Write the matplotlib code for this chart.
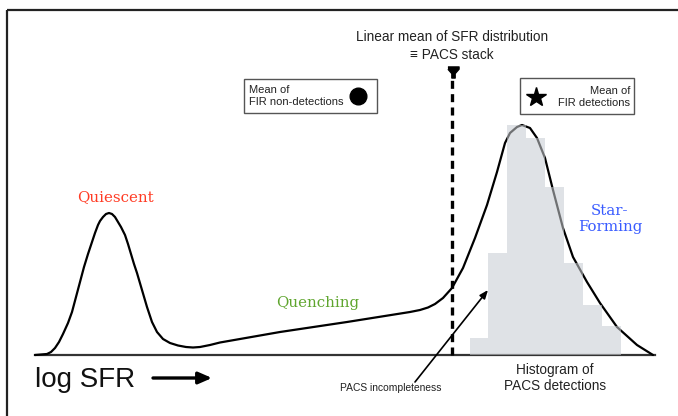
import matplotlib
matplotlib.use("Agg")
import matplotlib.pyplot as plt
from matplotlib.patches import Rectangle

# ---- data (schematic: x = log SFR position, y = relative number density) ----
curve_x = [35, 47, 51, 55, 59, 63, 68, 72, 76, 80, 84, 88, 92, 95, 98, 100, 103,
           106, 109, 112, 115, 118, 121, 125, 128, 131, 134, 137, 142, 147,
           152, 157, 163, 170, 178, 186, 193, 200, 210, 220, 280, 347, 410, 420,
           428, 435, 443, 452, 463, 475, 487, 497, 505, 510, 517, 522, 530, 537,
           545, 553, 563, 573, 587, 600, 617, 637, 653]
curve_y = [0, 1, 3, 7, 13, 21, 32, 43, 58, 73, 88, 101, 113, 122, 130, 134, 138,
           141, 142, 141, 138, 133, 128, 120, 111, 101, 91, 82, 65, 48,
           33, 23, 16, 12, 9.5, 8, 7.5, 8, 10, 12.5, 23, 33, 43, 45,
           47.5, 51, 57, 67, 87, 117, 150, 183, 212, 222, 228, 230, 227, 217,
           197, 165, 127, 98, 73, 52, 28, 10, 0]

hist_edges = [470, 488, 507, 526, 545, 564, 583, 602, 621]
hist_counts = [17, 102, 230, 217, 168, 92, 50, 29]

mean_all_x = 452          # linear mean of SFR distribution (PACS stack)
mean_nondet = (358, 259)  # marker position in legend box
mean_det = (536, 258)

SANS = ["Liberation Sans", "DejaVu Sans"]
SERIF = ["DejaVu Serif"]

fig = plt.figure(figsize=(6.78, 4.16), dpi=100)
ax = fig.add_axes([0, 0, 1, 1])
ax.set_xlim(0, 678)
ax.set_ylim(-61, 355)
ax.axis("off")

# frame (top and left)
ax.plot([7, 678], [345, 345], color="#222222", lw=1.6, clip_on=False, solid_capstyle="butt")
ax.plot([7, 7], [345, -61], color="#222222", lw=1.6, clip_on=False, solid_capstyle="butt")

# histogram of PACS detections (solid underlay)
widths = [hist_edges[i + 1] - hist_edges[i] for i in range(len(hist_counts))]
ax.bar(hist_edges[:-1], hist_counts, width=widths, align="edge",
       color="#dfe2e6", lw=0, zorder=1)

# baseline
ax.plot([35, 655], [0, 0], color="#333333", lw=1.6, zorder=2)

# distribution curve
ax.plot(curve_x, curve_y, color="black", lw=1.6, zorder=3,
        solid_joinstyle="round", solid_capstyle="round")

# translucent histogram overlay (curve appears grey inside the bars)
ax.bar(hist_edges[:-1], hist_counts, width=widths, align="edge",
       color="#dfe2e6", alpha=0.5, lw=0, zorder=4)

# dashed vertical line (linear mean)
ax.plot([mean_all_x, mean_all_x], [0, 277], color="black", lw=2.4,
        ls=(0, (2.4, 1.6)), zorder=5)
funnel = [(-1, 1), (1, 1), (1, 0.6), (0.3, -0.2), (0.3, -1), (-0.3, -1),
          (-0.3, -0.2), (-1, 0.6)]
ax.plot([mean_all_x + 1], [283], marker=funnel, markersize=8, color="black", zorder=6)
ax.text(mean_all_x, 318, "Linear mean of SFR distribution", ha="center", va="center",
        fontsize=9.8, family=SANS, color="#222222")
ax.text(mean_all_x, 300, "\u2261 PACS stack", ha="center", va="center",
        fontsize=9.8, family=SANS, color="#222222")

# legend boxes
ax.add_patch(Rectangle((244, 242), 133, 34, fill=False, edgecolor="#555555", lw=1.0))
ax.text(249, 259, "Mean of\nFIR non-detections", ha="left", va="center",
        fontsize=8, family=SANS, color="#222222", linespacing=1.25)
ax.plot([mean_nondet[0]], [mean_nondet[1]], marker="o", markersize=12, color="black")

ax.add_patch(Rectangle((520, 241), 114, 36, fill=False, edgecolor="#555555", lw=1.0))
ax.text(630, 258, "Mean of\nFIR detections", ha="right", va="center",
        fontsize=8, family=SANS, color="#222222", linespacing=1.25)
ax.plot([mean_det[0]], [mean_det[1]], marker="*", markersize=15, color="black")

# population labels
ax.text(115, 158, "Quiescent", ha="center", va="center", fontsize=10.8,
        family=SERIF, color="#ff3b24")
ax.text(318, 52, "Quenching", ha="center", va="center", fontsize=10.8,
        family=SERIF, color="#5fa52e")
ax.text(610, 136, "Star-\nForming", ha="center", va="center", fontsize=10.8,
        family=SERIF, color="#3a5cff", linespacing=1.2)

# axis label
ax.text(35, -25, "log SFR", ha="left", va="center", fontsize=20, family=SANS,
        color="#111111")
ax.annotate("", xy=(212, -23), xytext=(153, -23),
            arrowprops=dict(arrowstyle="-|>,head_length=0.8,head_width=0.35",
                            color="black", lw=2.4, shrinkA=0, shrinkB=0))

# histogram label
ax.text(555, -23, "Histogram of\nPACS detections", ha="center", va="center",
        fontsize=9.8, family=SANS, color="#222222", linespacing=1.15)

# PACS incompleteness
ax.text(391, -33, "PACS incompleteness", ha="center", va="center", fontsize=7.4,
        family=SANS, color="#222222")
ax.annotate("", xy=(488, 65), xytext=(415, -27),
            arrowprops=dict(arrowstyle="-|>,head_length=0.5,head_width=0.2",
                            color="black", lw=1.2, shrinkA=0, shrinkB=0), zorder=7)

fig.savefig("out.png", dpi=100)
